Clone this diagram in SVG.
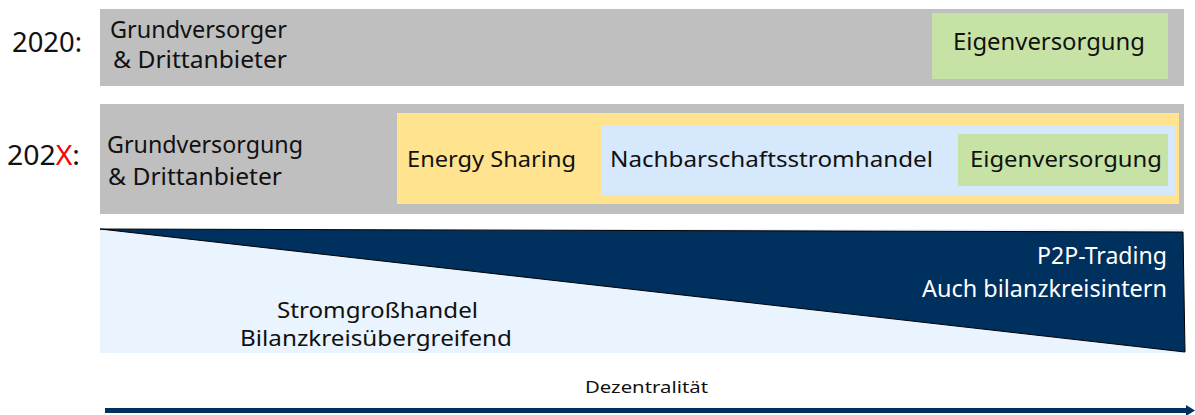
<svg xmlns="http://www.w3.org/2000/svg" width="1195" height="415" viewBox="0 0 1195 415">
<style>
text{font-family:"Noto Sans","Open Sans",sans-serif;fill:#111}
.lbl{font-size:23px}
.yr{font-size:28px}
.cond{font-family:"Noto Sans","Open Sans",sans-serif;font-size:22px}
.mid{font-size:21px}
.big{font-size:24px}
.gray{fill:#BFBFBF}
.green{fill:#C6E3A5}
.wht{fill:#fff}
</style>
<defs>
<marker id="ah" markerWidth="9" markerHeight="11" refX="0" refY="5.5" orient="auto" markerUnits="userSpaceOnUse">
<path d="M0,0 L9,5.5 L0,11 z" fill="#00305E"/>
</marker>
</defs>
<g id="row2020">
<text class="yr" x="12" y="52" textLength="70" lengthAdjust="spacingAndGlyphs">2020:</text>
<rect class="gray" x="100" y="9" width="1084" height="77"/>
<text class="lbl" x="110" y="38" textLength="177" lengthAdjust="spacingAndGlyphs">Grundversorger</text>
<text class="lbl" x="113" y="68" textLength="174" lengthAdjust="spacingAndGlyphs">&amp; Drittanbieter</text>
</g>
<g id="eigen2020">
<rect class="green" x="932" y="13" width="236" height="66"/>
<text class="lbl" x="953" y="50" textLength="192" lengthAdjust="spacingAndGlyphs">Eigenversorgung</text>
</g>
<g id="row202X">
<text class="yr" x="7" y="165" textLength="73" lengthAdjust="spacingAndGlyphs">202<tspan fill="#FF0000">X</tspan>:</text>
<rect class="gray" x="100" y="104" width="1084" height="110"/>
<text class="lbl" x="107" y="153" textLength="196" lengthAdjust="spacingAndGlyphs">Grundversorgung</text>
<text class="lbl" x="108" y="185" textLength="174" lengthAdjust="spacingAndGlyphs">&amp; Drittanbieter</text>
</g>
<g id="energysharing">
<rect x="397" y="113" width="782" height="91" fill="#FFE38F"/>
<text class="cond" x="407" y="167" textLength="169" lengthAdjust="spacingAndGlyphs">Energy Sharing</text>
</g>
<g id="nachbarschaft">
<rect x="601" y="125" width="574" height="70" fill="#D5E8FC"/>
<text class="cond" x="610" y="167" textLength="323" lengthAdjust="spacingAndGlyphs">Nachbarschaftsstromhandel</text>
</g>
<g id="eigen202X">
<rect class="green" x="958" y="134" width="210" height="52"/>
<text class="cond" x="970" y="167" textLength="192" lengthAdjust="spacingAndGlyphs">Eigenversorgung</text>
</g>
<g id="wedge">
<rect x="100" y="229" width="1084" height="124" fill="#EAF4FE"/>
<polygon points="100,229 1183,232 1185,352" fill="#00305E" stroke="#000" stroke-width="1"/>
<text class="cond mid" x="277" y="318" textLength="201" lengthAdjust="spacingAndGlyphs">Stromgroßhandel</text>
<text class="cond mid" x="240" y="346" textLength="272" lengthAdjust="spacingAndGlyphs">Bilanzkreisübergreifend</text>
<text class="lbl big wht" x="1037" y="264" textLength="130" lengthAdjust="spacingAndGlyphs">P2P-Trading</text>
<text class="lbl big wht" x="922" y="297" textLength="245" lengthAdjust="spacingAndGlyphs">Auch bilanzkreisintern</text>
</g>
<g id="connectors">
<line x1="105" y1="410.5" x2="1186" y2="410.5" stroke="#00305E" stroke-width="5" marker-end="url(#ah)"/>
<text x="585" y="393" textLength="123" lengthAdjust="spacingAndGlyphs" style="font-size:17px">Dezentralität</text>
</g>
</svg>
